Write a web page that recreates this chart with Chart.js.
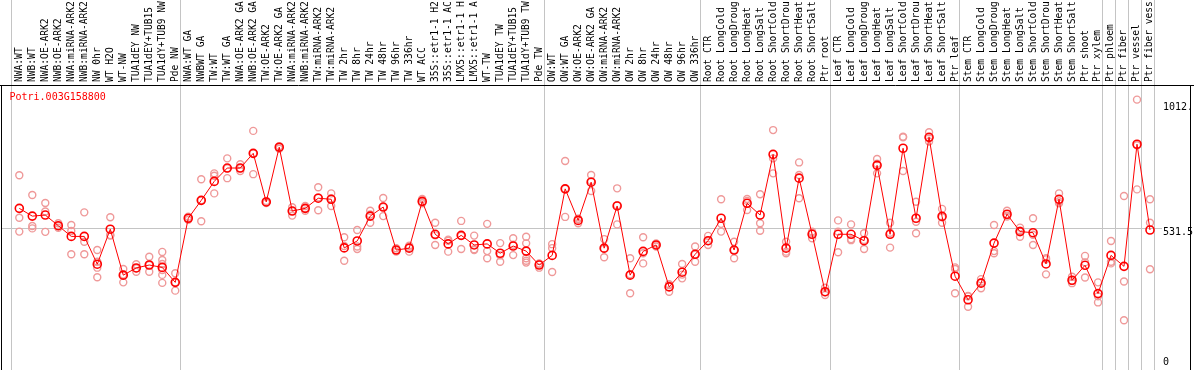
<!DOCTYPE html>
<html>
<head>
<meta charset="utf-8">
<script src="https://cdn.jsdelivr.net/npm/chart.js@4.4.1/dist/chart.umd.min.js"></script>
<style>
  html, body { margin: 0; padding: 0; background: #fff; }
  #wrap { width: 1194px; height: 370px; }
</style>
</head>
<body>
<div id="wrap"><canvas id="chart" width="1194" height="370"></canvas></div>
<script>
// Expression profile, one gene

const geneId = 'Potri.003G158800'

const samples = [
  'NWA:WT', 'NWB:WT', 'NWA:OE-ARK2', 'NWB:OE-ARK2', 'NWA:miRNA-ARK2', 'NWB:miRNA-ARK2',
  'NW 0hr', 'WT H2O', 'WT-NW', 'TUA1dEY NW', 'TUA1dEY+TUB15', 'TUA1dY+TUB9 NW', 'Pde NW',
  'NWA:WT GA', 'NWBWT GA', 'TW:WT', 'TW:WT GA', 'NWA:OE-ARK2 GA', 'NWB:OE-ARK2 GA',
  'TW:OE-ARK2', 'TW:OE-ARK2 GA', 'NWA:miRNA-ARK2', 'NWB:miRNA-ARK2', 'TW:miRNA-ARK2',
  'TW:miRNA-ARK2', 'TW 2hr', 'TW 8hr', 'TW 24hr', 'TW 48hr', 'TW 96hr', 'TW 336hr',
  'WT ACC', '35S::etr1-1 H2', '35S::etr1-1 AC', 'LMX5::etr1-1 H', 'LMX5::etr1-1 A',
  'WT-TW', 'TUA1dEY TW', 'TUA1dEY+TUB15', 'TUA1dY+TUB9 TW', 'Pde TW',
  'OW:WT', 'OW:WT GA', 'OW:OE-ARK2', 'OW:OE-ARK2 GA', 'OW:miRNA-ARK2', 'OW:miRNA-ARK2',
  'OW 2hr', 'OW 8hr', 'OW 24hr', 'OW 48hr', 'OW 96hr', 'OW 336hr',
  'Root CTR', 'Root LongCold', 'Root LongDroug', 'Root LongHeat', 'Root LongSalt',
  'Root ShortCold', 'Root ShortDrou', 'Root ShortHeat', 'Root ShortSalt', 'Ptr root',
  'Leaf CTR', 'Leaf LongCold', 'Leaf LongDroug', 'Leaf LongHeat', 'Leaf LongSalt',
  'Leaf ShortCold', 'Leaf ShortDrou', 'Leaf ShortHeat', 'Leaf ShortSalt', 'Ptr leaf',
  'Stem CTR', 'Stem LongCold', 'Stem LongDroug', 'Stem LongHeat', 'Stem LongSalt',
  'Stem ShortCold', 'Stem ShortDrou', 'Stem ShortHeat', 'Stem ShortSalt',
  'Ptr shoot', 'Ptr xylem', 'Ptr phloem', 'Ptr fiber', 'Ptr vessel', 'Ptr fiber vess'
]

const means = [
  605, 576, 580, 540, 500, 500, 396, 527, 355, 382, 393, 384, 328,
  568, 635, 706, 756, 756, 811, 629, 834, 595, 605, 643, 639,
  457, 483, 576, 610, 449, 456, 631, 508, 472, 504, 468, 472, 437, 464, 445, 393,
  429, 678, 560, 703, 456, 614, 355, 444, 468, 311, 366, 433,
  484, 568, 449, 624, 580, 807, 456, 718, 508, 293,
  508, 508, 484, 766, 508, 830, 568, 871, 575, 351,
  263, 325, 475, 583, 518, 514, 397, 639, 336, 392, 286, 429, 388, 845, 524
]

const replicates = [
  [729, 570, 518], [655, 539, 530], [625, 593, 517], [549, 539, 532], [543, 520, 433],
  [590, 480, 433], [449, 405, 383, 347], [572, 505, 503], [378, 357, 328], [396, 381, 368],
  [424, 393, 368], [442, 412, 397, 374, 356, 326], [362, 328, 297],
  [574, 568, 562], [714, 635, 557], [736, 727, 661], [792, 755, 718], [770, 755, 745],
  [895, 811, 733], [633, 629, 625], [838, 834, 828], [609, 595, 578], [614, 605, 596],
  [684, 646, 598], [661, 642, 614],
  [497, 464, 409], [524, 462, 453], [596, 582, 551], [644, 610, 576], [456, 449, 443],
  [465, 458, 443], [640, 630, 624], [551, 504, 468], [488, 484, 443], [558, 502, 453],
  [503, 452, 449], [547, 445, 418], [475, 429, 405], [493, 469, 430],
  [499, 474, 418, 409, 402], [399, 397, 383],
  [471, 456, 367], [782, 678, 573], [566, 565, 549], [730, 707, 670], [490, 454, 422],
  [680, 617, 545], [418, 358, 287], [497, 437, 399], [474, 468, 462], [321, 318, 293],
  [397, 357, 343], [462, 432, 405],
  [502, 483, 468], [639, 547, 518], [480, 449, 418], [640, 633, 599], [658, 549, 521],
  [898, 792, 736], [480, 443, 437], [777, 730, 643], [518, 513, 493], [308, 291, 281],
  [560, 518, 441], [545, 490, 486], [512, 487, 453], [790, 772, 736], [551, 514, 458],
  [873, 871, 745], [630, 555, 512], [890, 868, 855], [603, 572, 551], [384, 378, 287],
  [277, 276, 237], [340, 328, 306], [543, 445, 437], [596, 578, 574], [533, 521, 499],
  [568, 506, 468], [418, 414, 358], [661, 631, 624], [349, 333, 325],
  [427, 403, 346], [328, 276, 253], [483, 405, 399], [651, 331, 186], [1012, 841, 676],
  [639, 551, 377]
]

// first sample index of each group, last entry closes the final group
const groupStarts = [0, 13, 41, 53, 63, 73, 84, 85, 86, 87, 88]

const yTicks = [0, 531.5, 1012]
const yTickLabels = ['0', '531.5', '1012.']
const yMax = 1063

const xMin = -1.331
const xMax = 87.923
const monoFont = '"DejaVu Sans Mono", "Liberation Mono", monospace'

const meanPoints = means.map((v, i) => ({ x: i, y: v }))
const repPoints = []
replicates.forEach((vals, i) => vals.forEach(v => repPoints.push({ x: i, y: v })))

// black frame and the gene name in the corner
const framePlugin = {
  id: 'frame',
  afterDraw(chart) {
    const { ctx, chartArea } = chart
    ctx.save()
    ctx.strokeStyle = '#000'
    ctx.lineWidth = 1
    ctx.beginPath()
    ctx.moveTo(0, chartArea.top - 0.5)
    ctx.lineTo(chart.width, chartArea.top - 0.5)
    ctx.moveTo(chartArea.left - 0.5, chartArea.top)
    ctx.lineTo(chartArea.left - 0.5, chart.height)
    ctx.moveTo(chart.width - 3.5, chartArea.top)
    ctx.lineTo(chart.width - 3.5, chart.height)
    ctx.stroke()
    ctx.fillStyle = '#ff0000'
    ctx.font = '10px ' + monoFont
    ctx.textBaseline = 'middle'
    ctx.fillText(geneId, chartArea.left + 7.5, chartArea.top + 11.5)
    ctx.restore()
  }
}

new Chart(document.getElementById('chart'), {
  type: 'line',
  data: {
    datasets: [{
      type: 'line',
      data: meanPoints,
      borderColor: '#ff0000',
      borderWidth: 1,
      pointRadius: 4,
      pointBorderWidth: 1.6,
      pointBorderColor: '#ff0000',
      pointBackgroundColor: 'rgba(255,255,255,0)',
      tension: 0,
      xAxisID: 'x',
      yAxisID: 'y'
    }, {
      type: 'scatter',
      data: repPoints,
      pointRadius: 3.5,
      pointBorderWidth: 1.4,
      borderColor: '#ef9999',
      backgroundColor: 'rgba(255,255,255,0)',
      xAxisID: 'x',
      yAxisID: 'y'
    }]
  },
  options: {
    responsive: false,
    animation: false,
    devicePixelRatio: 1,
    layout: { autoPadding: false, padding: { left: 2, right: 0, top: 0, bottom: 0 } },
    plugins: {
      legend: { display: false },
      tooltip: { enabled: false }
    },
    scales: {
      x: {
        type: 'linear',
        position: 'top',
        weight: 1,
        min: xMin,
        max: xMax,
        afterBuildTicks: (axis) => { axis.ticks = samples.map((_, i) => ({ value: i })) },
        afterFit: (axis) => { axis.height = 86; axis.paddingLeft = 0; axis.paddingRight = 0 },
        ticks: {
          autoSkip: false,
          minRotation: 90,
          maxRotation: 90,
          padding: 4,
          labelOffset: 11.5,
          color: '#000',
          font: { family: monoFont, size: 9.6, lineHeight: 1.2 },
          callback: (value, index) => samples[index]
        },
        grid: { display: false, drawTicks: false },
        border: { display: false }
      },
      xSep: {
        type: 'linear',
        position: 'top',
        weight: 0,
        min: xMin,
        max: xMax,
        afterBuildTicks: (axis) => { axis.ticks = groupStarts.map(i => ({ value: i - 0.62 })) },
        afterFit: (axis) => { axis.height = 0; axis.paddingLeft = 0; axis.paddingRight = 0 },
        ticks: { display: false },
        grid: { color: '#c4c4c4', lineWidth: 1, drawTicks: true, tickLength: 86 },
        border: { display: false }
      },
      y: {
        type: 'linear',
        position: 'right',
        min: 0,
        max: yMax,
        afterBuildTicks: (axis) => { axis.ticks = yTicks.map(v => ({ value: v })) },
        afterFit: (axis) => { axis.width = 32; axis.paddingTop = 0; axis.paddingBottom = 0 },
        ticks: {
          padding: 1,
          labelOffset: 4,
          color: '#000',
          font: { family: monoFont, size: 10, lineHeight: 0.8 },
          callback: (value) => {
            const label = yTickLabels[yTicks.indexOf(value)]
            // keep the end labels inside the plot
            if (value === 0) return [label, '', '', '']
            if (value === 1012) return ['', label]
            return label
          }
        },
        grid: {
          drawTicks: false,
          color: (ctx) => (ctx.tick && ctx.tick.value === 531.5 ? '#c4c4c4' : 'rgba(0,0,0,0)')
        },
        border: { display: false }
      }
    }
  },
  plugins: [framePlugin]
})
</script>
</body>
</html>
